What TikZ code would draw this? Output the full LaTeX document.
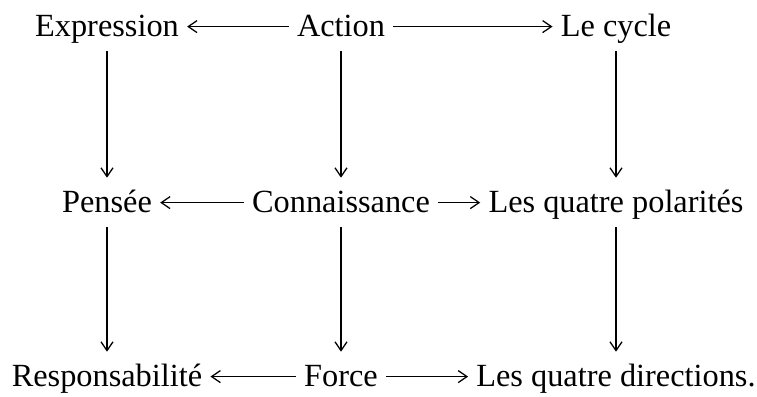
\documentclass[tikz,border=0pt]{standalone}
\usepackage{fontspec}
\setmainfont{Liberation Serif}
\usetikzlibrary{arrows.meta}

\begin{document}
\begin{tikzpicture}[
    term/.style={anchor=base, inner xsep=0.2cm, inner ysep=0.32cm,
                 text height=0.53cm, text depth=0.06cm,
                 font=\fontsize{23}{27}\selectfont},
    link/.style={-{Straight Barb[length=2.2mm, width=3mm]},
                 line width=0.9pt},
]
\useasboundingbox (0,0) rectangle (18.925,-9.925);
% top row
\node[term] (expr)  at ( 2.675,-0.9) {Expression};
\node[term] (act)   at ( 8.525,-0.9) {Action};
\node[term] (cycle) at (15.4,  -0.9) {Le cycle};
% middle row
\node[term] (pens)  at ( 2.675,-5.3) {Pensée};
\node[term] (conn)  at ( 8.525,-5.3) {Connaissance};
\node[term] (pol)   at (15.4,  -5.3) {Les quatre polarités};
% bottom row
\node[term] (resp)  at ( 2.675,-9.65) {Responsabilité};
\node[term] (force) at ( 8.525,-9.65) {Force};
\node[term] (dir)   at (15.4,  -9.65) {Les quatre directions.};
% horizontal arrows
\draw[link] (act) -- (expr);
\draw[link] (act) -- (cycle);
\draw[link] (conn) -- (pens);
\draw[link] (conn) -- (pol);
\draw[link] (force) -- (resp);
\draw[link] (force) -- (dir);
% vertical arrows
\draw[link] (expr) -- (pens);
\draw[link] (act) -- (conn);
\draw[link] (cycle) -- (pol);
\draw[link] (pens) -- (resp);
\draw[link] (conn) -- (force);
\draw[link] (pol) -- (dir);
\end{tikzpicture}
\end{document}
